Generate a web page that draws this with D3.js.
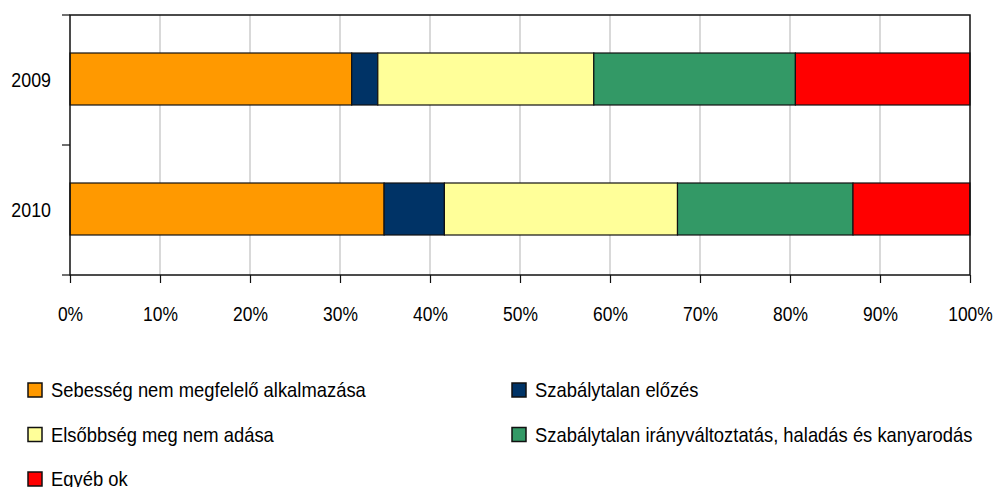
<!DOCTYPE html>
<html>
<head>
<meta charset="utf-8">
<script src="https://cdn.jsdelivr.net/npm/d3@7"></script>
<style>
  body { margin: 0; background: #fff; }
  svg text { font-family: "Liberation Sans", Arial, sans-serif; fill: #000; }
</style>
</head>
<body>
<svg id="chart" width="995" height="487"></svg>
<script>
// data (share of accidents, %)
var years = ["2009", "2010"];
var causes = [
  "Sebesség nem megfelelő alkalmazása",
  "Szabálytalan előzés",
  "Elsőbbség meg nem adása",
  "Szabálytalan irányváltoztatás, haladás és kanyarodás",
  "Egyéb ok"
];
var values2009 = [31.3, 2.9, 24.0, 22.4, 19.4];
var values2010 = [34.9, 6.7, 25.9, 19.5, 13.0];
var colors = ["#ff9900", "#003366", "#ffff99", "#339966", "#ff0000"];
var xTicks = [0, 10, 20, 30, 40, 50, 60, 70, 80, 90, 100];

var svg = d3.select("#chart");
var plotLeft = 70, plotRight = 970, plotTop = 15, plotBottom = 275;

// rows for d3.stack
var rows = years.map(function(y, i) {
  var vals = i == 0 ? values2009 : values2010;
  var r = {year: y};
  causes.forEach(function(c, j) { r[c] = vals[j]; });
  return r;
});
var stacked = d3.stack().keys(causes)(rows);

var xScale = d3.scaleLinear().domain([0, 100]).range([plotLeft, plotRight]);
var yScale = d3.scaleBand().domain(years).range([plotTop, plotBottom])
  .paddingInner(0.6).paddingOuter(0.3);
var color = d3.scaleOrdinal().domain(causes).range(colors);

// gridlines
svg.append("g").selectAll("line")
  .data(xTicks.slice(1, -1))
  .enter().append("line")
  .attr("x1", function(d) { return xScale(d); })
  .attr("x2", function(d) { return xScale(d); })
  .attr("y1", plotTop).attr("y2", plotBottom)
  .attr("stroke", "#b3b3b3").attr("stroke-width", 1);

// bars
svg.append("g").selectAll("g")
  .data(stacked)
  .enter().append("g")
  .attr("fill", function(d) { return color(d.key); })
  .selectAll("rect")
  .data(function(d) { return d; })
  .enter().append("rect")
  .attr("x", function(d) { return xScale(d[0]); })
  .attr("width", function(d) { return xScale(d[1]) - xScale(d[0]); })
  .attr("y", function(d) { return yScale(d.data.year) - 1; })
  .attr("height", yScale.bandwidth())
  .attr("stroke", "#111").attr("stroke-width", 1.2);

// frame
svg.append("rect")
  .attr("x", plotLeft).attr("y", plotTop)
  .attr("width", plotRight - plotLeft).attr("height", plotBottom - plotTop)
  .attr("fill", "none").attr("stroke", "#111").attr("stroke-width", 1.5);

// x axis
var xAxis = svg.append("g")
  .attr("transform", "translate(0," + plotBottom + ")")
  .call(d3.axisBottom(xScale).tickValues(xTicks).tickSize(8)
    .tickFormat(function(d) { return d + "%"; }));
xAxis.select(".domain").remove();
xAxis.selectAll("line").attr("stroke", "#111").attr("stroke-width", 1.2);
xAxis.selectAll("text")
  .attr("y", 46).attr("dy", null)
  .attr("transform", "scale(0.83,1)")
  .style("font-size", "21px")
  .style("font-family", null);

// y axis: ticks on band boundaries, labels at band centres
var step = yScale.step();
var bounds = [plotTop].concat(years.map(function(y) { return yScale(y) - step * 0.3 + step; }));
svg.append("g").selectAll("line")
  .data(bounds)
  .enter().append("line")
  .attr("x1", plotLeft - 8).attr("x2", plotLeft)
  .attr("y1", function(d) { return d; }).attr("y2", function(d) { return d; })
  .attr("stroke", "#111").attr("stroke-width", 1.2);

svg.append("g").selectAll("text")
  .data(years)
  .enter().append("text")
  .attr("transform", function(d) {
    return "translate(51," + (yScale(d) + yScale.bandwidth() / 2 + 7) + ") scale(0.85,1)";
  })
  .attr("text-anchor", "end")
  .style("font-size", "21px")
  .text(function(d) { return d; });

// legend
var legend = svg.append("g").selectAll("g")
  .data(causes)
  .enter().append("g")
  .attr("transform", function(d, i) {
    var col = i % 2, row = Math.floor(i / 2);
    return "translate(" + (col == 0 ? 28 : 512) + "," + (383 + row * 44.5) + ")";
  });
legend.append("rect")
  .attr("width", 14).attr("height", 14)
  .attr("fill", function(d) { return color(d); })
  .attr("stroke", "#111").attr("stroke-width", 1.5);
legend.append("text")
  .attr("transform", "translate(23,14) scale(0.92,1)")
  .style("font-size", "20px")
  .text(function(d) { return d; });
</script>
</body>
</html>
